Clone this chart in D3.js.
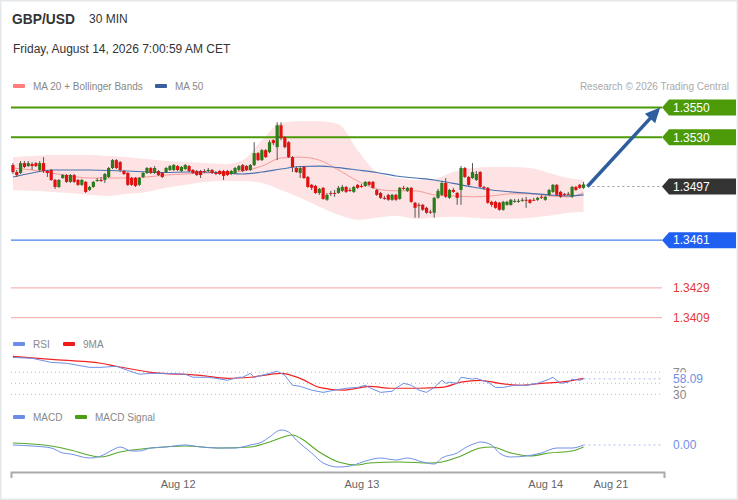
<!DOCTYPE html>
<html>
<head>
<meta charset="utf-8">
<script src="https://cdn.jsdelivr.net/npm/d3@7"></script>
<style>
  body { margin: 0; background: #fff; }
  svg { display: block; font-family: "Liberation Sans", Arial, sans-serif; }
</style>
</head>
<body>
<div id="chart"></div>
<script>
// 30 min candles, [open, high, low, close]
const candles = [
  [1.35114,1.35127,1.35054,1.35067],[1.35067,1.35081,1.35034,1.35047],[1.35061,1.35141,1.35054,1.35127],[1.35127,1.35141,1.35094,1.35101],
  [1.35107,1.35141,1.35101,1.35127],[1.35121,1.35134,1.35081,1.35107],[1.35127,1.35134,1.35101,1.35107],[1.35081,1.35141,1.35067,1.35127],
  [1.35127,1.35167,1.35061,1.35074],[1.35074,1.35081,1.35034,1.35061],[1.35081,1.35087,1.35007,1.35014],[1.35014,1.35021,1.34954,1.34967],
  [1.34967,1.35021,1.34961,1.35014],[1.35027,1.35054,1.35021,1.35047],[1.35047,1.35054,1.34994,1.35001],[1.35001,1.35054,1.34994,1.35047],
  [1.35047,1.35054,1.34994,1.35001],[1.35014,1.35021,1.34974,1.34981],[1.34981,1.35021,1.34974,1.35014],[1.35001,1.35007,1.34927,1.34934],
  [1.34947,1.34974,1.34941,1.34967],[1.34967,1.35007,1.34961,1.35001],[1.35007,1.35027,1.35001,1.35014],[1.35014,1.35034,1.35001,1.35007],
  [1.35014,1.35061,1.34994,1.35054],[1.35034,1.35101,1.35027,1.35094],[1.35094,1.35154,1.35087,1.35147],[1.35147,1.35154,1.35087,1.35094],
  [1.35134,1.35141,1.35067,1.35081],[1.35074,1.35081,1.35047,1.35054],[1.35061,1.35067,1.34974,1.34981],[1.35027,1.35034,1.34974,1.34981],
  [1.35027,1.35034,1.34967,1.34974],[1.34981,1.35034,1.34974,1.35027],[1.35034,1.35067,1.35027,1.35061],[1.35061,1.35101,1.35054,1.35094],
  [1.35094,1.35101,1.35054,1.35061],[1.35061,1.35107,1.35054,1.35094],[1.35074,1.35081,1.35041,1.35047],[1.35061,1.35067,1.35027,1.35034],
  [1.35067,1.35101,1.35061,1.35094],[1.35081,1.35114,1.35074,1.35107],[1.35081,1.35121,1.35074,1.35114],[1.35107,1.35114,1.35074,1.35081],
  [1.35074,1.35107,1.35067,1.35101],[1.35087,1.35121,1.35081,1.35114],[1.35107,1.35114,1.35067,1.35074],[1.35081,1.35087,1.35054,1.35061],
  [1.35074,1.35081,1.35041,1.35047],[1.35074,1.35081,1.35027,1.35047],[1.35074,1.35087,1.35061,1.35071],[1.35074,1.35094,1.35067,1.35081],
  [1.35081,1.35087,1.35054,1.35061],[1.35061,1.35074,1.35047,1.35057],[1.35074,1.35081,1.35047,1.35054],[1.35074,1.35081,1.35014,1.35041],
  [1.35074,1.35081,1.35041,1.35047],[1.35054,1.35081,1.35047,1.35074],[1.35061,1.35101,1.35054,1.35094],[1.35081,1.35114,1.35074,1.35107],
  [1.35114,1.35121,1.35067,1.35074],[1.35107,1.35114,1.35074,1.35081],[1.35081,1.35121,1.35074,1.35114],[1.35114,1.35267,1.35107,1.35194],
  [1.35194,1.35201,1.35141,1.35147],[1.35147,1.35221,1.35141,1.35214],[1.35214,1.35221,1.35161,1.35167],[1.35201,1.35281,1.35194,1.35267],
  [1.35281,1.35287,1.35247,1.35261],[1.35234,1.35401,1.35147,1.35381],[1.35381,1.35401,1.35281,1.35294],[1.35301,1.35307,1.35227,1.35234],
  [1.35267,1.35274,1.35161,1.35167],[1.35167,1.35174,1.35067,1.35101],[1.35094,1.35107,1.35061,1.35067],[1.35061,1.35107,1.35027,1.35094],
  [1.35101,1.35107,1.35021,1.35027],[1.35034,1.35041,1.34961,1.34967],[1.34981,1.34987,1.34947,1.34961],[1.34974,1.34981,1.34921,1.34927],
  [1.34927,1.34961,1.34914,1.34954],[1.34961,1.34967,1.34881,1.34887],[1.34881,1.34927,1.34874,1.34914],[1.34927,1.34941,1.34907,1.34921],
  [1.34927,1.34947,1.34901,1.34924],[1.34927,1.34974,1.34921,1.34961],[1.34941,1.34981,1.34934,1.34967],[1.34967,1.34974,1.34927,1.34934],
  [1.34947,1.34961,1.34934,1.34944],[1.34934,1.34974,1.34927,1.34967],[1.34981,1.34987,1.34954,1.34961],[1.34974,1.34987,1.34961,1.34971],
  [1.34974,1.35007,1.34967,1.35001],[1.35001,1.35007,1.34974,1.34981],[1.35001,1.35007,1.34954,1.34961],[1.34947,1.34954,1.34907,1.34914],
  [1.34927,1.34934,1.34887,1.34894],[1.34894,1.34907,1.34881,1.34891],[1.34914,1.34921,1.34874,1.34881],[1.34881,1.34921,1.34874,1.34914],
  [1.34914,1.34921,1.34874,1.34881],[1.34887,1.34967,1.34881,1.34961],[1.34961,1.34974,1.34947,1.34957],[1.34941,1.34967,1.34934,1.34961],
  [1.34961,1.34967,1.34861,1.34867],[1.34861,1.34867,1.34761,1.34827],[1.34847,1.34861,1.34761,1.34841],[1.34847,1.34854,1.34807,1.34814],
  [1.34827,1.34834,1.34787,1.34794],[1.34801,1.34814,1.34787,1.34797],[1.34794,1.34901,1.34761,1.34894],[1.34894,1.34954,1.34887,1.34941],
  [1.34914,1.35007,1.34907,1.34994],[1.34994,1.35027,1.34894,1.34901],[1.34894,1.34954,1.34887,1.34947],[1.34947,1.34961,1.34927,1.34934],
  [1.34927,1.34934,1.34847,1.34894],[1.34947,1.35107,1.34847,1.35094],[1.35094,1.35101,1.35027,1.35034],[1.35034,1.35041,1.34974,1.34981],
  [1.35027,1.35127,1.35021,1.35067],[1.35014,1.35074,1.35007,1.35054],[1.35067,1.35074,1.34961,1.34967],[1.34967,1.34974,1.34947,1.34961],
  [1.34961,1.34967,1.34854,1.34861],[1.34867,1.34874,1.34834,1.34847],[1.34867,1.34874,1.34821,1.34827],[1.34861,1.34867,1.34807,1.34814],
  [1.34814,1.34874,1.34807,1.34867],[1.34847,1.34874,1.34841,1.34867],[1.34847,1.34887,1.34841,1.34881],[1.34867,1.34887,1.34861,1.34874],
  [1.34867,1.34887,1.34861,1.34874],[1.34874,1.34894,1.34867,1.34881],[1.34881,1.34901,1.34827,1.34877],[1.34881,1.34887,1.34854,1.34861],
  [1.34881,1.34894,1.34874,1.34877],[1.34881,1.34901,1.34874,1.34894],[1.34901,1.34914,1.34887,1.34897],[1.34881,1.34907,1.34874,1.34901],
  [1.34914,1.34954,1.34907,1.34947],[1.34934,1.34987,1.34927,1.34981],[1.34981,1.34987,1.34907,1.34914],[1.34934,1.34941,1.34894,1.34901],
  [1.34921,1.34927,1.34907,1.34914],[1.34921,1.34934,1.34914,1.34917],[1.34901,1.34974,1.34894,1.34967],[1.34967,1.34974,1.34941,1.34947],
  [1.34981,1.34987,1.34954,1.34961],[1.34961,1.35001,1.34954,1.34984]
];

// moving averages and bands, read every 5 candles
const bandIdx = [0,5,10,15,20,25,30,35,40,45,50,55,60,65,70,75,80,85,90,95,100,105,110,115,120,125,130,135,140,145,149];
const ma20 = [1.35094,1.35081,1.35061,1.35041,1.35027,1.35027,1.35027,1.35034,1.35047,1.35054,1.35061,1.35064,1.35074,1.35107,1.35161,1.35167,
  1.35147,1.35081,1.35007,1.34954,1.34941,1.34941,1.34914,1.34907,1.34901,1.34907,1.34921,1.34921,1.34907,1.34901,1.34927];
const ma50 = [1.35034,1.35061,1.35081,1.35081,1.35081,1.35077,1.35074,1.35067,1.35064,1.35067,1.35067,1.35061,1.35054,1.35067,1.35087,1.35104,
  1.35107,1.35097,1.35081,1.35064,1.35041,1.35027,1.35014,1.34991,1.34967,1.34947,1.34934,1.34924,1.34914,1.34907,1.34914];
const bbUpper = [1.35167,1.35174,1.35181,1.35181,1.35181,1.35174,1.35167,1.35154,1.35141,1.35134,1.35127,1.35121,1.35147,1.35281,1.35394,1.35407,
  1.35407,1.35387,1.35214,1.35067,1.35027,1.35014,1.35021,1.35067,1.35094,1.35101,1.35101,1.35094,1.35061,1.35027,1.35014];
const bbLower = [1.34947,1.34941,1.34934,1.34927,1.34914,1.34907,1.34921,1.34934,1.34961,1.34981,1.35001,1.35007,1.35007,1.34994,1.34947,1.34894,
  1.34834,1.34781,1.34747,1.34761,1.34774,1.34754,1.34761,1.34767,1.34761,1.34754,1.34754,1.34761,1.34774,1.34794,1.34801];

// key levels
const levels = [1.3550, 1.3530, 1.3497, 1.3461, 1.3429, 1.3409];
const levelKinds = ["resistance", "resistance", "last", "pivot", "support", "support"];
const target = [169, 1.3550]; // [candle index, price] of the arrow tip

// RSI panel, [candle index, value]
const rsi = [[0,97],[5,95.5],[10,88],[14,86.5],[20,79],[23,79],[27,81],[30,73.5],[33,66.5],[36,68],[40,68],[45,66.5],[47,61],[51,61],
  [53,59],[56,55.5],[59,61],[60,61],[62,68],[63,61],[65,64.5],[67,68],[69,72],[71,64.5],[73,46.5],[75,44.5],[78,37.5],[81,33.5],[84,37.5],
  [87,41],[90,42.5],[92,46.5],[93,42.5],[96,33.5],[99,35.5],[100,41],[102,50],[104,46.5],[106,37.5],[108,33.5],[110,42.5],[112,55.5],
  [113,50],[114,52],[116,50],[117,61],[120,57.5],[121,59],[124,52],[126,42.5],[128,42.5],[131,46.5],[134,46.5],[137,50],[140,57.5],
  [141,61],[143,50],[145,52],[146,57.5],[148,55.5],[149,58.09]];
const rsiMa = [[0,99],[10,93.6],[23,86.4],[27,81],[36,70],[49,64.5],[56,59],[62,61],[70,68],[75,59],[80,42.5],[86,37.5],[90,41],[93,44.5],
  [99,41],[106,41],[112,42.5],[117,52],[122,55.5],[127,50],[133,46.5],[138,50],[143,52],[149,59]];
const rsiLevels = [70, 50, 30];

// MACD panel, [candle index, value]
const macd = [[0,0],[5,-0.0001],[10,-0.0003],[13,-0.0008],[15,-0.0009],[20,-0.0013],[23,-0.0011],[26,-0.0005],[28,-0.0002],[31,-0.0006],
  [33,-0.0006],[36,-0.0003],[40,-0.0002],[45,0],[49,-0.0002],[54,-0.0003],[58,-0.0003],[62,0],[65,0.0003],[67,0.0008],[70,0.0015],
  [72,0.0013],[74,0.0005],[78,-0.0008],[81,-0.0018],[85,-0.0022],[88,-0.0021],[93,-0.0015],[96,-0.0013],[100,-0.0015],[103,-0.0013],
  [107,-0.0017],[110,-0.0019],[112,-0.0013],[116,-0.0008],[118,-0.0003],[121,0.0002],[122,0.0003],[125,0],[127,-0.0008],[130,-0.0012],
  [134,-0.0011],[138,-0.0008],[142,-0.0003],[146,-0.0003],[149,0]];
const macdSignal = [[0,0.0002],[10,-0.0001],[15,-0.0005],[23,-0.0012],[28,-0.0007],[36,-0.0003],[45,-0.0001],[54,-0.0003],[62,-0.0002],
  [67,0.0003],[73,0.0010],[75,0.0007],[80,-0.0007],[85,-0.0017],[90,-0.0020],[93,-0.0018],[101,-0.0017],[109,-0.0018],[112,-0.0017],
  [117,-0.0011],[122,-0.0003],[125,-0.0002],[130,-0.0008],[135,-0.0011],[140,-0.0008],[146,-0.0006],[149,-0.0002]];

// time axis
const tickIdx = [43, 91, 139, 156];
const tickLabels = ["Aug 12", "Aug 13", "Aug 14", "Aug 21"];

const width = 738;
const height = 500;
const plotLeft = 11, plotRight = 662;

const svg = d3.select("#chart")
  .append("svg")
  .attr("width", width)
  .attr("height", height)
  .attr("viewBox", [0, 0, width, height]);

svg.append("rect")
  .attr("x", 0.5).attr("y", 0.5)
  .attr("width", width - 1).attr("height", height - 1)
  .attr("fill", "#fff")
  .attr("stroke", "#e4e8eb")
  .attr("stroke-width", 2);

const x = d3.scaleLinear().domain([-0.5, 170]).range([11, 664]);
const y = d3.scaleLinear().domain([1.3409, 1.3550]).range([317.7, 107.5]);
const yRsi = d3.scaleLinear().domain([30, 70]).range([394.3, 372.3]);
const yMacd = d3.scaleLinear().domain([-0.002, 0.002]).range([465, 425]);

// header
svg.append("text").attr("x", 12).attr("y", 24)
  .attr("font-size", 13.8).attr("font-weight", "bold").attr("fill", "#333")
  .text("GBP/USD");
svg.append("text").attr("x", 89).attr("y", 23)
  .attr("font-size", 12).attr("fill", "#333")
  .text("30 MIN");
svg.append("text").attr("x", 13).attr("y", 53)
  .attr("font-size", 12).attr("fill", "#333")
  .text("Friday, August 14, 2026 7:00:59 AM CET");

function legend(items, yPos) {
  const g = svg.append("g");
  items.forEach(d => {
    g.append("rect").attr("x", d.x).attr("y", yPos - 2).attr("width", 12).attr("height", 4)
      .attr("rx", 1).attr("fill", d.color);
    g.append("text").attr("x", d.x + 20).attr("y", yPos).attr("dy", "0.35em")
      .attr("font-size", 10).attr("fill", "#888").text(d.label);
  });
}
legend([{x: 13, color: "#ff7d7d", label: "MA 20 + Bollinger Bands"},
        {x: 155, color: "#3a5f9e", label: "MA 50"}], 86);
svg.append("text").attr("x", 729).attr("y", 86).attr("dy", "0.35em")
  .attr("text-anchor", "end").attr("font-size", 10).attr("fill", "#aaa")
  .text("Research \u00a9 2026 Trading Central");

// bollinger band
const band = bandIdx.map((d, i) => ({i: d, up: bbUpper[i], lo: bbLower[i], m20: ma20[i], m50: ma50[i]}));
svg.append("path")
  .datum(band)
  .attr("fill", "#fde3e3")
  .attr("d", d3.area().curve(d3.curveMonotoneX)
    .x(d => x(d.i)).y0(d => y(d.lo)).y1(d => y(d.up)));

// level lines
const levelColor = {resistance: "#4c9a08", last: "#333", pivot: "#1f5ff2", support: "#e53935"};
const levelG = svg.append("g");
levels.forEach((lv, k) => {
  const kind = levelKinds[k];
  const ly = y(lv);
  if (kind === "last") {
    levelG.append("line").attr("x1", x(150)).attr("x2", plotRight).attr("y1", ly).attr("y2", ly)
      .attr("stroke", "#999").attr("stroke-dasharray", "2,3");
  } else {
    levelG.append("line").attr("x1", plotLeft).attr("x2", plotRight).attr("y1", ly).attr("y2", ly)
      .attr("stroke", kind === "resistance" ? "#4c9a08" : kind === "pivot" ? "#4a7ff0" : "#f6a5a5")
      .attr("stroke-width", kind === "resistance" ? 2 : kind === "pivot" ? 1.3 : 1);
  }
  if (kind !== "support") {
    levelG.append("path")
      .attr("d", `M${plotRight},${ly}L${plotRight + 7},${ly - 8}H736V${ly + 8}H${plotRight + 7}Z`)
      .attr("fill", levelColor[kind]);
  }
  levelG.append("text").attr("x", 673).attr("y", ly).attr("dy", "0.35em")
    .attr("font-size", 12)
    .attr("fill", kind === "support" ? levelColor.support : "#fff")
    .text(d3.format(".4f")(lv));
});

// moving averages
const lineMa = key => d3.line().curve(d3.curveMonotoneX).x(d => x(d.i)).y(d => y(d[key]));
svg.append("path").datum(band).attr("fill", "none").attr("stroke", "#f79a9a").attr("stroke-width", 1)
  .attr("d", lineMa("m20"));
svg.append("path").datum(band).attr("fill", "none").attr("stroke", "#4a70b0").attr("stroke-width", 1.1)
  .attr("d", lineMa("m50"));

// candles
const cg = svg.append("g");
cg.selectAll("line")
  .data(candles)
  .join("line")
    .attr("x1", (d, i) => x(i)).attr("x2", (d, i) => x(i))
    .attr("y1", d => y(d[1])).attr("y2", d => y(d[2]))
    .attr("stroke", "#555").attr("stroke-width", 1);
cg.selectAll("rect")
  .data(candles)
  .join("rect")
    .attr("x", (d, i) => x(i) - 1.6)
    .attr("width", 3.2)
    .attr("y", d => y(Math.max(d[0], d[3])))
    .attr("height", d => Math.max(1, Math.abs(y(d[0]) - y(d[3]))))
    .attr("fill", d => d[3] > d[0] ? "#2b7a1c" : d[3] < d[0] ? "#e31010" : "#555");

// forecast arrow
const ax0 = x(candles.length), ay0 = y(levels[2]);
const ax1 = x(target[0]), ay1 = y(target[1]);
const ang = Math.atan2(ay1 - ay0, ax1 - ax0);
const ca = Math.cos(ang), sa = Math.sin(ang);
svg.append("line")
  .attr("x1", ax0).attr("y1", ay0)
  .attr("x2", ax1 - ca * 10).attr("y2", ay1 - sa * 10)
  .attr("stroke", "#2f5e9e").attr("stroke-width", 3.5);
svg.append("path")
  .attr("d", `M${ax1},${ay1}L${ax1 - ca * 15 + sa * 7},${ay1 - sa * 15 - ca * 7}L${ax1 - ca * 15 - sa * 7},${ay1 - sa * 15 + ca * 7}Z`)
  .attr("fill", "#2f5e9e");

// RSI panel
legend([{x: 13, color: "#6a8ee8", label: "RSI"}, {x: 63, color: "#ee1c1c", label: "9MA"}], 344);
const rg = svg.append("g");
rsiLevels.forEach(v => {
  rg.append("line").attr("x1", plotLeft).attr("x2", plotRight).attr("y1", yRsi(v)).attr("y2", yRsi(v))
    .attr("stroke", "#bbb").attr("stroke-dasharray", "1,3");
  rg.append("text").attr("x", 673).attr("y", yRsi(v)).attr("dy", "0.35em")
    .attr("font-size", 12).attr("fill", "#888").text(v);
});
const pathXY = (ys) => d3.line().x(d => x(d[0])).y(d => ys(d[1]));
rg.append("path").datum(rsiMa).attr("fill", "none").attr("stroke", "#f02424").attr("stroke-width", 1.2)
  .attr("d", pathXY(yRsi).curve(d3.curveMonotoneX));
rg.append("path").datum(rsi).attr("fill", "none").attr("stroke", "#6f90e6").attr("stroke-width", 1)
  .attr("d", pathXY(yRsi));
const rsiLast = rsi[rsi.length - 1];
rg.append("line").attr("x1", x(rsiLast[0])).attr("x2", plotRight)
  .attr("y1", yRsi(rsiLast[1])).attr("y2", yRsi(rsiLast[1]))
  .attr("stroke", "#a9bdf0").attr("stroke-dasharray", "2,3");
rg.append("rect").attr("x", 668).attr("y", yRsi(rsiLast[1]) - 6.5).attr("width", 44).attr("height", 13.5)
  .attr("fill", "#fff");
rg.append("text").attr("x", 673).attr("y", yRsi(rsiLast[1])).attr("dy", "0.35em")
  .attr("font-size", 12).attr("fill", "#7090e6").text(d3.format(".2f")(rsiLast[1]));

// MACD panel
legend([{x: 13, color: "#6a8ee8", label: "MACD"}, {x: 75, color: "#4a9e12", label: "MACD Signal"}], 417);
const mg = svg.append("g");
mg.append("path").datum(macdSignal).attr("fill", "none").attr("stroke", "#56a828").attr("stroke-width", 1.1)
  .attr("d", pathXY(yMacd).curve(d3.curveMonotoneX));
mg.append("path").datum(macd).attr("fill", "none").attr("stroke", "#6f90e6").attr("stroke-width", 1)
  .attr("d", pathXY(yMacd).curve(d3.curveMonotoneX));
const macdLast = macd[macd.length - 1];
mg.append("line").attr("x1", x(macdLast[0])).attr("x2", plotRight)
  .attr("y1", yMacd(macdLast[1])).attr("y2", yMacd(macdLast[1]))
  .attr("stroke", "#a9bdf0").attr("stroke-dasharray", "2,3");
mg.append("text").attr("x", 673).attr("y", yMacd(macdLast[1])).attr("dy", "0.35em")
  .attr("font-size", 12).attr("fill", "#7090e6").text(d3.format(".2f")(macdLast[1]));

// time axis
const xAxis = svg.append("g")
  .attr("transform", "translate(0,472)")
  .call(d3.axisBottom(x).tickValues(tickIdx).tickFormat((d, i) => tickLabels[i])
    .tickSizeInner(0).tickSizeOuter(6).tickPadding(8));
xAxis.select(".domain").attr("stroke", "#aaa").attr("stroke-width", 2);
xAxis.selectAll("text").attr("fill", "#666").attr("font-size", 11)
  .attr("font-family", "'Liberation Sans', Arial, sans-serif");
</script>
</body>
</html>
